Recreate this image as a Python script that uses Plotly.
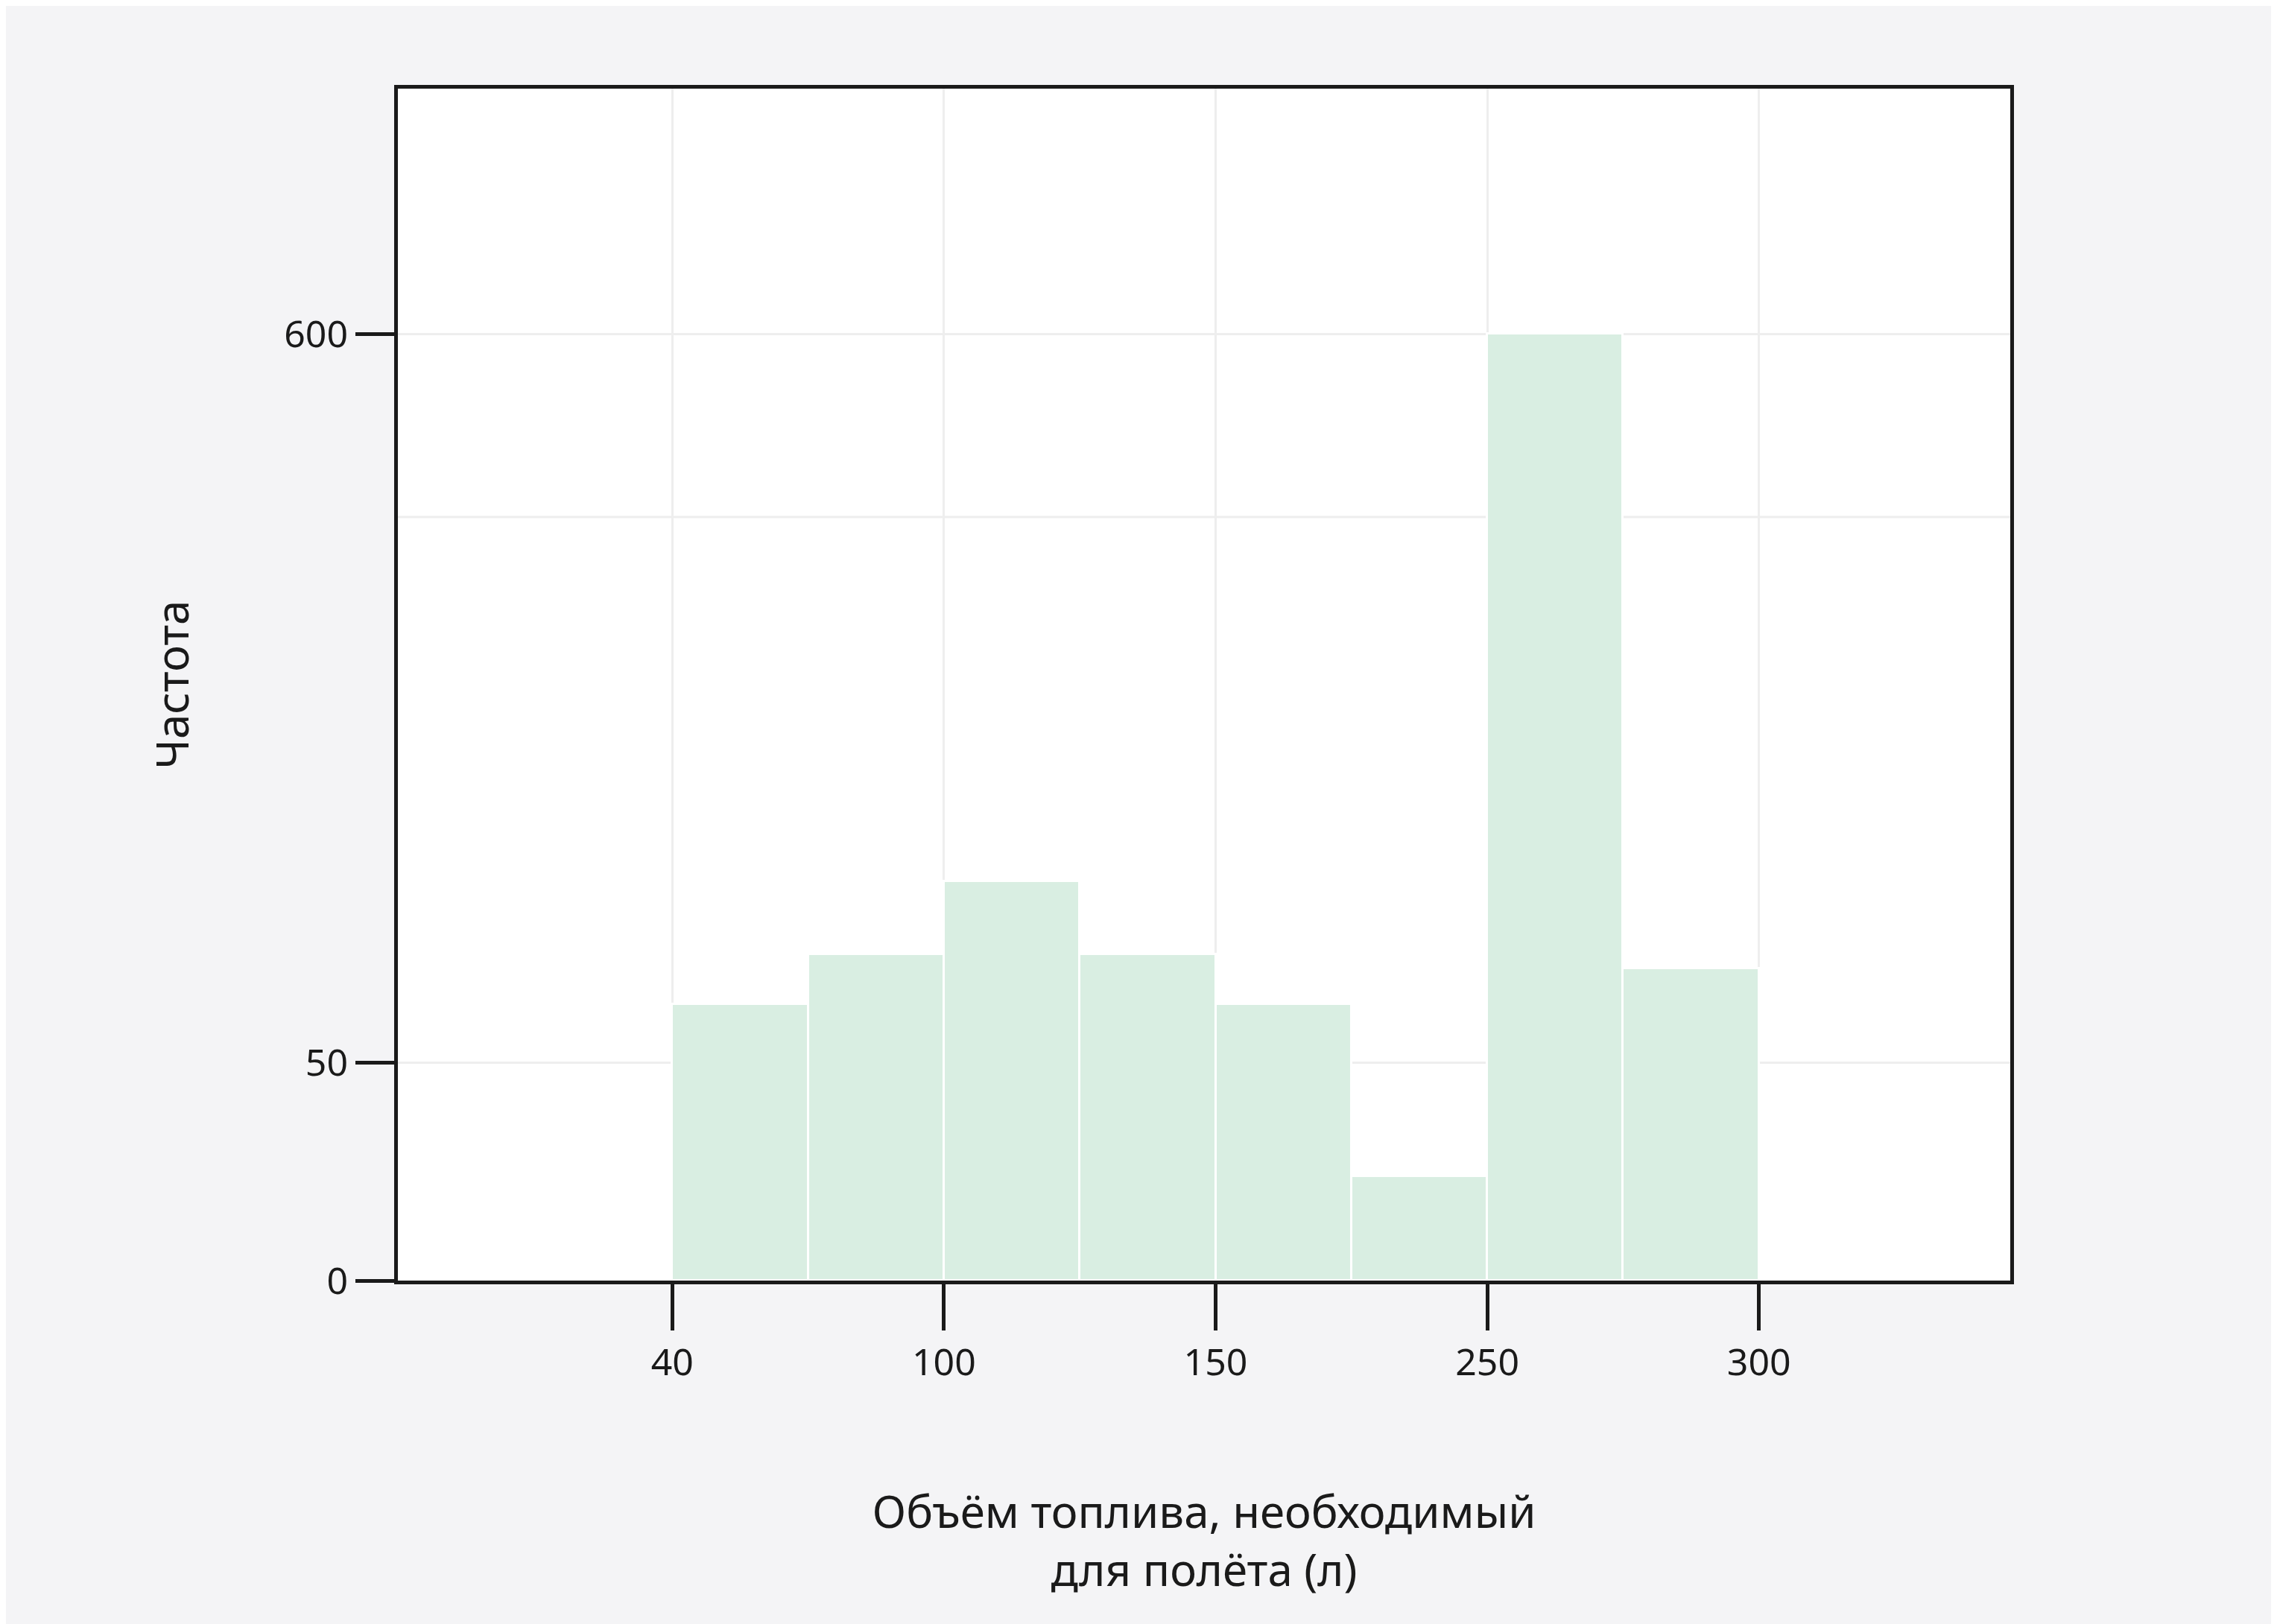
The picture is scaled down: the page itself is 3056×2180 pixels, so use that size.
import plotly.graph_objects as go

# Data
bin_index = [0, 1, 2, 3, 4, 5, 6, 7]
frequency = [94, 132, 187, 132, 94, 24, 600, 121]
x_tick_labels = ["40", "100", "150", "250", "300"]
x_tick_edges = [0, 2, 4, 6, 8]
y_tick_values = [0, 50, 600]

def scale_y(v):
    # broken (piecewise) vertical scale as in the reference
    if v <= 50:
        return v * 3.0
    return 150 + (v - 50) * 502.0 / 550.0

fig = go.Figure()
fig.add_trace(go.Bar(
    x=[i + 0.5 for i in bin_index],
    y=[scale_y(v) for v in frequency],
    width=1.0,
    marker=dict(color="#d9eee2", line=dict(color="white", width=3)),
    customdata=frequency,
    hovertemplate="%{customdata}<extra></extra>",
))

font = dict(family="Noto Sans, Open Sans, sans-serif", size=50, color="#1a1a1a")
fig.update_layout(
    width=3056, height=2180,
    paper_bgcolor="#f4f4f6", plot_bgcolor="white",
    margin=dict(l=526, r=366, t=111, b=469),
    font=font, showlegend=False, bargap=0,
)
fig.update_xaxes(
    range=[-2.02, 9.85], tickvals=x_tick_edges, ticktext=x_tick_labels,
    ticks="outside", ticklen=62, tickwidth=5, tickcolor="#1a1a1a",
    showline=True, linewidth=5, linecolor="#1a1a1a", mirror=True,
    showgrid=True, gridcolor="#eeeeee", gridwidth=3, zeroline=False,
    title=dict(text="Объём топлива, необходимый<br>для полёта (л)", standoff=150),
)
fig.update_yaxes(
    range=[0, 821], tickvals=[scale_y(v) for v in y_tick_values],
    ticktext=[str(v) for v in y_tick_values],
    ticks="outside", ticklen=52, tickwidth=5, tickcolor="#1a1a1a",
    showline=True, linewidth=5, linecolor="#1a1a1a", mirror=True,
    showgrid=True, gridcolor="#eeeeee", gridwidth=3, zeroline=False,
    title=dict(text="Частота", standoff=110),
)
fig.add_hline(y=526, line=dict(color="#eeeeee", width=3), layer="below")

fig.write_html("out.html")
